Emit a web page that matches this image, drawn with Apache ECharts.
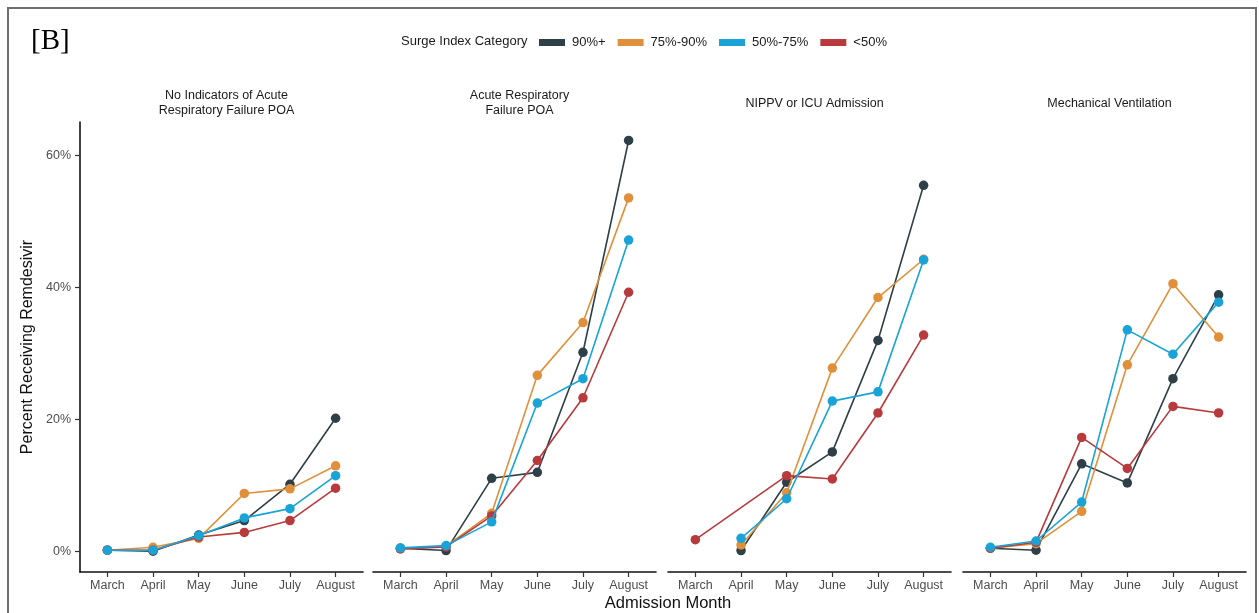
<!DOCTYPE html>
<html>
<head>
<meta charset="utf-8">
<script src="https://cdn.jsdelivr.net/npm/echarts@6/dist/echarts.min.js"></script>
<style>
html,body{margin:0;padding:0;background:#fff;}
#c{width:1259px;height:613px;}
</style>
</head>
<body>
<div id="c"></div>
<script>
const months = ['March','April','May','June','July','August'];
const groups = ['90%+','75%-90%','50%-75%','<50%'];
const panelTitles = ['No Indicators of Acute\nRespiratory Failure POA','Acute Respiratory\nFailure POA','NIPPV or ICU Admission','Mechanical Ventilation'];
const yTicks = [0, 20, 40, 60];
const colors = ['#2F3F47', '#E0903B', '#19A3D6', '#B83A3D'];

// Panel 1: No indicators of ARF POA
const p1_90 = [0.2, 0.05, 2.5, 4.7, 10.2, 20.2];
const p1_75 = [0.2, 0.65, 2.0, 8.8, 9.5, 13.0];
const p1_50 = [0.2, 0.2, 2.4, 5.1, 6.5, 11.5];
const p1_lt50 = [0.2, 0.2, 2.2, 2.9, 4.7, 9.6];
// Panel 2: ARF POA
const p2_90 = [0.5, 0.15, 11.1, 12.0, 30.2, 62.3];
const p2_75 = [0.45, 0.8, 5.8, 26.7, 34.7, 53.6];
const p2_50 = [0.55, 0.9, 4.5, 22.5, 26.2, 47.2];
const p2_lt50 = [0.4, 0.7, 5.4, 13.8, 23.3, 39.3];
// Panel 3: NIPPV or ICU
const p3_90 = [null, 0.15, 10.5, 15.1, 32.0, 55.5];
const p3_75 = [null, 1.0, 8.9, 27.8, 38.5, 44.3];
const p3_50 = [null, 2.0, 8.0, 22.8, 24.2, 44.2];
const p3_lt50 = [1.8, null, 11.5, 11.0, 21.0, 32.8];
// Panel 4: Mechanical ventilation
const p4_90 = [0.5, 0.2, 13.3, 10.4, 26.2, 38.9];
const p4_75 = [0.5, 1.2, 6.1, 28.3, 40.6, 32.5];
const p4_50 = [0.65, 1.6, 7.5, 33.6, 29.9, 37.8];
const p4_lt50 = [0.5, 1.4, 17.3, 12.6, 22.0, 21.0];

const panels = [
  [p1_90, p1_75, p1_50, p1_lt50],
  [p2_90, p2_75, p2_50, p2_lt50],
  [p3_90, p3_75, p3_50, p3_lt50],
  [p4_90, p4_75, p4_50, p4_lt50]
];

const gridLefts = [80, 373, 668, 963];
const gridWidth = 283;
const font = '"Liberation Sans", Arial, sans-serif';

const grids = gridLefts.map(l => ({left: l, width: gridWidth, top: 122, bottom: 41, containLabel: false}));

const xAxes = gridLefts.map((l, i) => ({
  type: 'value', gridIndex: i, min: -0.6, max: 5.6,
  splitLine: {show: false},
  axisLine: {show: true, onZero: false, lineStyle: {color: '#111', width: 1.6}},
  axisTick: {show: true, length: 5, lineStyle: {color: '#333', width: 1.2}, customValues: [0,1,2,3,4,5]},
  axisLabel: {show: true, customValues: [0,1,2,3,4,5], formatter: v => months[Math.round(v)] || '', color: '#4D4D4D', fontSize: 12.5, fontFamily: font, margin: 7}
}));

const yAxes = gridLefts.map((l, i) => ({
  type: 'value', gridIndex: i, min: -3.1, max: 65.1,
  splitLine: {show: false},
  axisLine: {show: i === 0, onZero: false, lineStyle: {color: '#111', width: 1.6}},
  axisTick: {show: i === 0, length: 5, lineStyle: {color: '#333', width: 1.2}, customValues: yTicks},
  axisLabel: {show: i === 0, customValues: yTicks, formatter: v => v + '%', color: '#4D4D4D', fontSize: 12.5, fontFamily: font, margin: 9},
  name: i === 0 ? 'Percent Receiving Remdesivir' : '',
  nameLocation: 'middle', nameGap: 44, nameRotate: 90,
  nameTextStyle: {color: '#111', fontSize: 16, fontFamily: font}
}));

const series = [];
const zByGroup = [2, 3, 5, 4];
panels.forEach((pdata, pi) => {
  [0, 1, 2, 3].forEach(gi => {
    series.push({
      name: groups[gi], type: 'line', xAxisIndex: pi, yAxisIndex: pi,
      data: pdata[gi].map((v, k) => [k, v]),
      connectNulls: true,
      symbol: 'circle', symbolSize: 9.5,
      lineStyle: {color: colors[gi], width: 1.6},
      itemStyle: {color: colors[gi]},
      emphasis: {disabled: true},
      z: zByGroup[gi]
    });
  });
});

const titles = panelTitles.map((t, i) => ({
  text: t, left: gridLefts[i] + gridWidth / 2, top: t.includes('\n') ? 83 : 91, textAlign: 'center',
  textStyle: {fontSize: 12.5, fontWeight: 'normal', color: '#1A1A1A', fontFamily: font, lineHeight: 15}
}));
titles.push({text: '[B]', left: 26, top: 22, textStyle: {fontSize: 29, fontWeight: 'normal', color: '#000', fontFamily: '"Liberation Serif", "Times New Roman", serif'}});
titles.push({text: 'Surge Index Category', left: 396, top: 30, textStyle: {fontSize: 13, fontWeight: 'normal', color: '#1A1A1A', fontFamily: font}});
titles.push({text: 'Admission Month', left: 663, top: 590, textAlign: 'center', textStyle: {fontSize: 16.5, fontWeight: 'normal', color: '#111', fontFamily: font}});

const chart = echarts.init(document.getElementById('c'), null, {renderer: 'canvas'});
chart.setOption({
  backgroundColor: '#fff',
  animation: false,
  title: titles,
  legend: {
    data: groups, left: 534, top: 31, itemWidth: 26, itemHeight: 7, itemGap: 12,
    icon: 'rect',
    textStyle: {fontSize: 13, color: '#1A1A1A', fontFamily: font, padding: [0, 0, 0, 2]}
  },
  grid: grids,
  xAxis: xAxes,
  yAxis: yAxes,
  series: series,
  graphic: [{
    type: 'rect', shape: {x: 8, y: 8, width: 1248, height: 640},
    style: {fill: 'none', stroke: '#6E6E6E', lineWidth: 2}, silent: true
  }]
});
</script>
</body>
</html>
